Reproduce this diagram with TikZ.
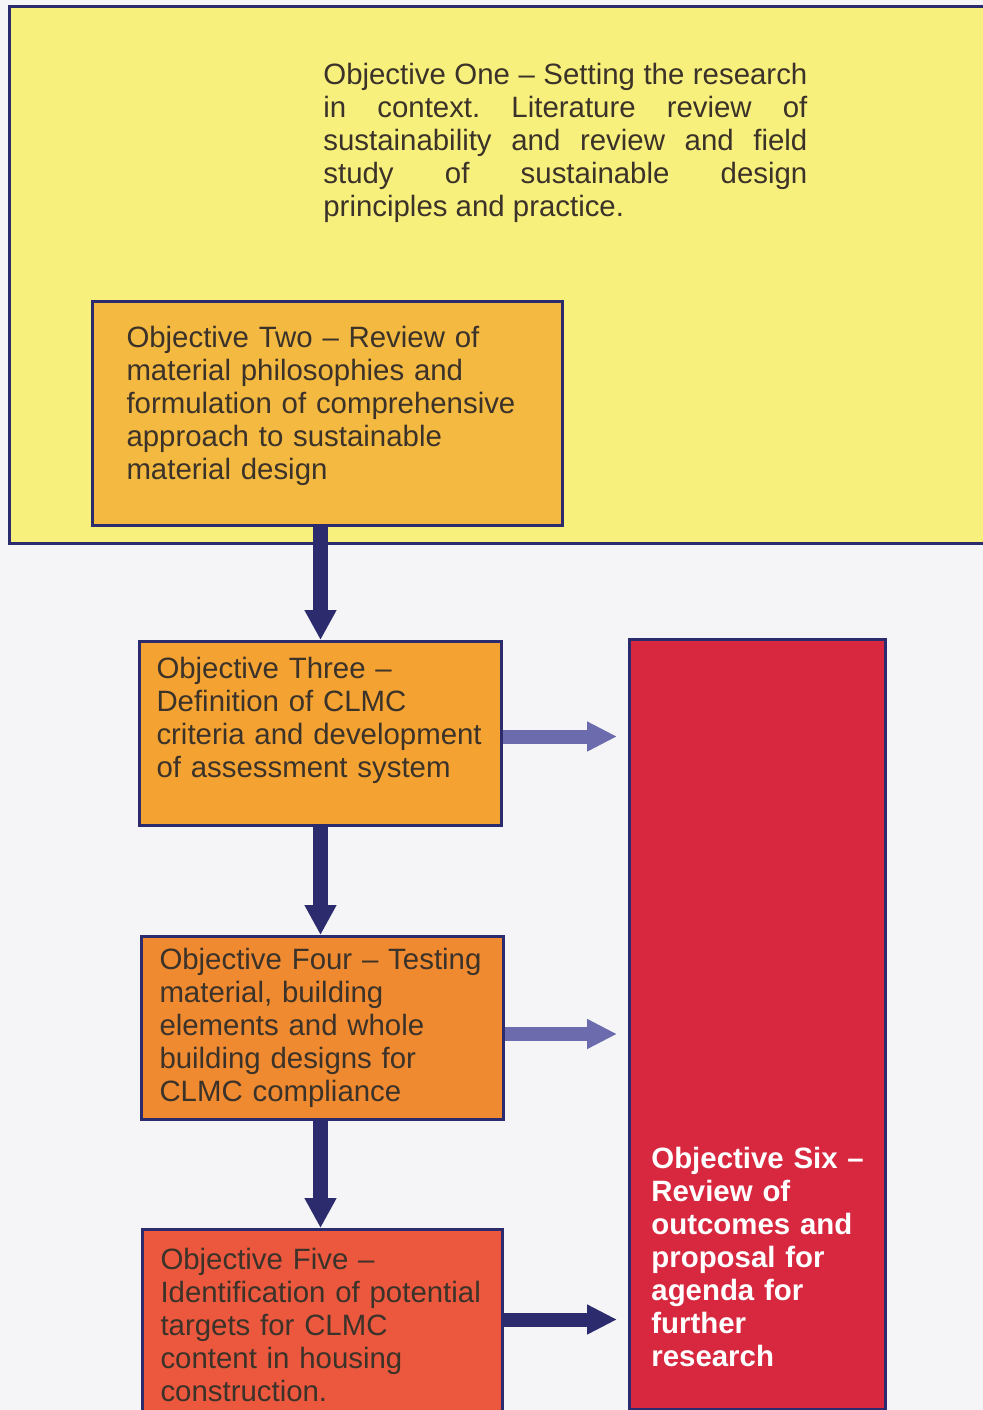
\documentclass[tikz,border=0pt]{standalone}
\usepackage{fontspec}
\setmainfont{Liberation Sans}
\usetikzlibrary{arrows.meta}
\frenchspacing

\definecolor{navy}{HTML}{2C2B6E}
\definecolor{slate}{HTML}{6B6BAE}
\definecolor{ink}{HTML}{3B3229}
\definecolor{paper}{HTML}{F5F5F8}
\definecolor{objone}{HTML}{F8F07C}
\definecolor{objtwo}{HTML}{F4B940}
\definecolor{objthree}{HTML}{F4A332}
\definecolor{objfour}{HTML}{F08A30}
\definecolor{objfive}{HTML}{EB583E}
\definecolor{objsix}{HTML}{D7283F}

\begin{document}
\begin{tikzpicture}[x=0.5pt,y=-0.5pt,
    box/.style={draw=navy,line width=1.5pt,rectangle,anchor=north west,
      align=left,text=ink,inner ysep=0pt,
      font=\fontsize{14.7}{16.5}\selectfont},
    varrow/.style={draw=navy,line width=7.5pt,
      -{Triangle[width=15pt,length=15pt]}},
    harrow/.style={line width=7pt,shorten >=5.5pt,
      -{Triangle[width=14pt,length=15pt]}}]
   \useasboundingbox (0,0) rectangle (983,1410);
   \fill[paper] (0,0) rectangle (983,1410);

   % objective one, text sits right of the box
   \node[box,fill=objone,minimum width=500pt,minimum height=268.5pt] (one) at (8,5) {};
   \node[anchor=west,inner sep=0pt,text width=242pt,align=justify,text=ink,
         font=\fontsize{14.7}{16.5}\selectfont] (onetxt) at (323,143)
     {Objective One -- Setting the research\linebreak
      in context. Literature review of\linebreak
      sustainability and review and field\linebreak
      study of sustainable design\linebreak
      principles and practice.};

   \node[box,fill=objtwo,minimum width=235pt,minimum height=112pt,
         inner xsep=17pt,text width=201pt,text depth=77pt] (two) at (91,300)
     {Objective Two -- Review of\\ material philosophies and\\
      formulation of comprehensive\\ approach to sustainable\\ material design};
   \node[box,fill=objthree,minimum width=181pt,minimum height=92pt,
         inner xsep=8.5pt,text width=164pt,text depth=65.6pt] (three) at (138,640)
     {Objective Three --\\ Definition of CLMC\\ criteria and development\\
      of assessment system};
   \node[box,fill=objfour,minimum width=181pt,minimum height=91.5pt,
         inner xsep=9pt,text width=163pt] (four) at (140,935)
     {Objective Four -- Testing\\ material, building\\ elements and whole\\
      building designs for\\ CLMC compliance};
   \node[box,fill=objfive,minimum width=180pt,minimum height=95pt,
         inner xsep=9pt,text width=162pt] (five) at (141,1228)
     {Objective Five --\\ Identification of potential\\ targets for CLMC\\
      content in housing\\ construction.};

   % objective six, text in the lower part
   \node[box,fill=objsix,minimum width=128pt,minimum height=385pt] (six) at (628,638) {};
   \node[anchor=west,inner sep=0pt,text width=120pt,align=left,text=white,
         font=\fontsize{14.7}{16.5}\selectfont\bfseries] (sixtxt) at (651,1257)
     {Objective Six --\\ Review of\\ outcomes and\\ proposal for\\ agenda for\\
      further\\ research};

   \draw[varrow] (two.south -| three.north) -- (three.north);
   \draw[varrow] (three.south) -- (three.south |- four.north);
   \draw[varrow] (four.south -| three.south) -- (five.north -| three.south);
   \draw[harrow,draw=slate] ([yshift=-1.5pt]three.east) -- ([yshift=-1.5pt]three.east -| six.west);
   \draw[harrow,draw=slate] ([yshift=-3pt]four.east) -- ([yshift=-3pt]four.east -| six.west);
   \draw[harrow,draw=navy] ([yshift=2.5pt]five.east) -- ([yshift=2.5pt]five.east -| six.west);
\end{tikzpicture}
\end{document}
